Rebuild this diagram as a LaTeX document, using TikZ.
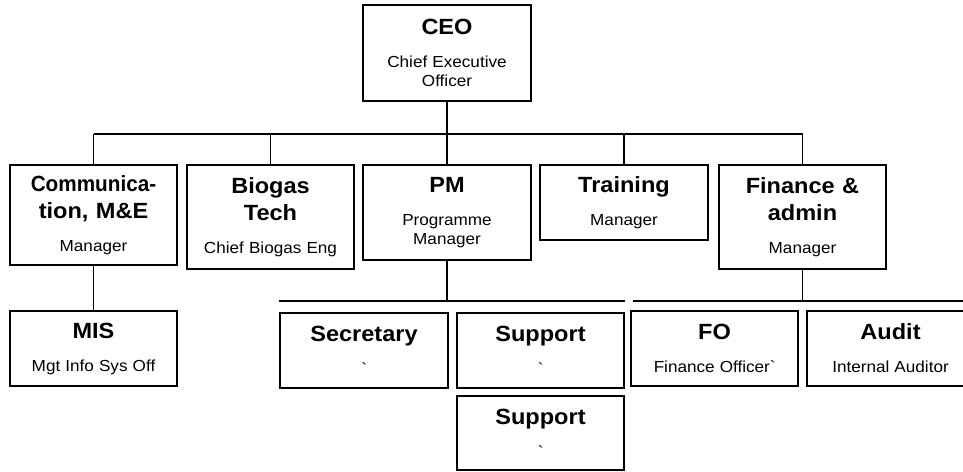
\documentclass[tikz,border=0pt]{standalone}
\usepackage{fontspec}
\setmainfont{Liberation Sans}[FakeStretch=1.07]
\usepackage{graphicx}
\usepackage{tikz}
\usetikzlibrary{calc}

\newcommand{\orgtitle}[1]{{\fontsize{22}{27}\selectfont\bfseries\spaceskip=0.34em #1\par}}
\newcommand{\orgrole}[1]{\vspace{14pt}{\fontsize{16}{19}\selectfont\spaceskip=0.32em #1\par}}

\begin{document}
\begin{tikzpicture}[x=1pt, y=-1pt,
    unit/.style 2 args={rectangle, draw=black, line width=1.3pt, minimum width=#1, minimum height=#2, text width=150pt, align=center, inner sep=0pt},
    link/.style={draw=black, line width=1.8pt},
]
    \clip (0,0) rectangle (963,471);

    \node[unit={168}{96}] (ceo) at (447,53) {\orgtitle{CEO}\orgrole{Chief Executive\\Officer}};

    \node[unit={167}{100}] (comm) at (93.5,215) {\orgtitle{\scalebox{0.88}[1]{Communica-}\\tion, M\&E}\orgrole{Manager}};
    \node[unit={167}{104}] (bio) at (270.5,217) {\orgtitle{Biogas\\Tech}\orgrole{Chief Biogas Eng}};
    \node[unit={168}{95}] (pm) at (447,212.5) {\orgtitle{PM}\orgrole{Programme\\Manager}};
    \node[unit={168}{75}] (train) at (624,202.5) {\orgtitle{Training}\orgrole{Manager}};
    \node[unit={167}{104}] (fin) at (802.5,217) {\orgtitle{Finance \&\\admin}\orgrole{Manager}};

    \node[unit={167}{75}] (mis) at (93.5,348.5) {\orgtitle{MIS}\orgrole{Mgt Info Sys Off}};
    \node[unit={168}{75}] (sec) at (364,350.5) {\orgtitle{Secretary}\orgrole{\textasciigrave}};
    \node[unit={167}{75}] (sup1) at (540.5,350.5) {\orgtitle{Support}\orgrole{\textasciigrave}};
    \node[unit={167}{74}] (sup2) at (540.5,433) {\orgtitle{Support}\orgrole{\textasciigrave}};
    \node[unit={167}{75}] (fo) at (714.5,348.5) {\orgtitle{FO}\orgrole{Finance Officer\textasciigrave}};
    \node[unit={167}{75}] (audit) at (890.5,348.5) {\orgtitle{Audit}\orgrole{Internal Auditor}};

    \coordinate (topbus) at (0,134);
    \coordinate (midbus) at (0,301);

    \draw[link] (ceo) -- (ceo |- topbus);
    \draw[link] (comm |- topbus) -- (fin |- topbus);
    \foreach \n in {comm,bio,pm,train,fin}
        \draw[link] (\n |- topbus) -- (\n.north);

    \draw[link] (comm) -- (mis);
    \draw[link] (pm) -- (pm |- midbus);
    \draw[link] (sec.north west |- midbus) -- (sup1.north east |- midbus);
    \draw[link] (fin) -- (fin |- midbus);
    \draw[link] ($(fo.north west |- midbus)+(3,0)$) -- (audit.north east |- midbus);
\end{tikzpicture}
\end{document}
